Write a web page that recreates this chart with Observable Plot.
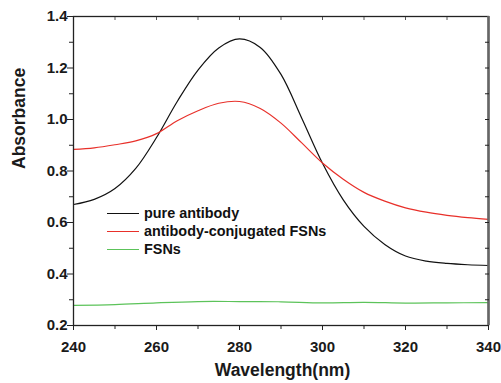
<!DOCTYPE html>
<html>
<head>
<meta charset="utf-8">
<script src="https://cdn.jsdelivr.net/npm/d3@7"></script>
<script src="https://cdn.jsdelivr.net/npm/@observablehq/plot@0.6"></script>
<style>
  html, body { margin: 0; padding: 0; background: #fff; }
  #wrap { position: relative; width: 501px; height: 383px; font-family: "Liberation Sans", Arial, Helvetica, sans-serif; }
  #legend { position: absolute; left: 107px; top: 204px; font-weight: bold; font-size: 14.4px; color: #111; }
  #legend .row { display: flex; align-items: center; height: 18px; }
  #legend .sw { width: 32px; height: 0; border-top: 1.3px solid; margin-right: 5px; }
</style>
</head>
<body>
<div id="wrap"></div>
<script>
const wavelength = [240,245,250,255,260,265,270,275,280,285,290,295,300,305,310,315,320,325,330,335,340];
const pureAntibody = [0.670,0.690,0.732,0.810,0.930,1.070,1.192,1.278,1.313,1.280,1.175,1.005,0.830,0.688,0.585,0.515,0.470,0.450,0.441,0.436,0.433];
const conjugated = [0.884,0.890,0.902,0.917,0.945,0.995,1.034,1.063,1.070,1.043,0.986,0.909,0.831,0.768,0.717,0.683,0.657,0.640,0.628,0.619,0.612];
const fsnWavelength = [240,250,260,270,280,290,300,310,320,330,340];
const fsns = [0.278,0.281,0.288,0.293,0.293,0.292,0.288,0.290,0.287,0.288,0.289];
const seriesNames = ["pure antibody","antibody-conjugated FSNs","FSNs"];
const seriesColors = ["#111111","#e8302a","#5cc35a"];
const xMajor = [240,260,280,300,320,340];
const xMinor = [250,270,290,310,330];
const xTop = [250,260,270,280,290,300,310,320,330];
const yMajor = [0.2,0.4,0.6,0.8,1.0,1.2,1.4];
const yMinor = [0.3,0.5,0.7,0.9,1.1,1.3];
const yRight = [0.3,0.4,0.5,0.6,0.7,0.8,0.9,1.0,1.1,1.2,1.3];

const rows = [];
wavelength.forEach((w,i) => rows.push({w, v: pureAntibody[i], s: seriesNames[0]}));
wavelength.forEach((w,i) => rows.push({w, v: conjugated[i], s: seriesNames[1]}));
fsnWavelength.forEach((w,i) => rows.push({w, v: fsns[i], s: seriesNames[2]}));

const font = {fontSize: 15, fontWeight: "bold", fill: "#1a1a1a"};
const blank = () => "";
const chart = Plot.plot({
  width: 501, height: 383,
  marginLeft: 73, marginRight: 13, marginTop: 16, marginBottom: 58,
  style: {fontFamily: '"Liberation Sans", Arial, Helvetica, sans-serif', background: "white"},
  x: {domain: [240, 340]},
  y: {domain: [0.2, 1.4]},
  color: {domain: seriesNames, range: seriesColors},
  marks: [
    Plot.line(rows, {x: "w", y: "v", z: "s", stroke: "s", strokeWidth: 1.2, curve: "catmull-rom"}),
    Plot.frame({stroke: "#222", strokeWidth: 1.3}),
    Plot.ruleX([340], {stroke: "#666", strokeWidth: 2.6}),
    Plot.axisY({ticks: yMajor, tickSize: 6, tickPadding: 0, tickFormat: d => d.toFixed(1), label: null, stroke: "#222", ...font}),
    Plot.axisY({ticks: yMinor, tickSize: 4, tickFormat: blank, label: null, stroke: "#222"}),
    Plot.axisY({anchor: "right", ticks: yRight, tickSize: -4, tickFormat: blank, label: null, stroke: "#222"}),
    Plot.axisX({ticks: xMajor, tickSize: 5, tickPadding: 11, tickFormat: d => String(d), label: null, stroke: "#222", ...font}),
    Plot.axisX({ticks: xMinor, tickSize: 4, tickFormat: blank, label: null, stroke: "#222"}),
    Plot.axisX({anchor: "top", ticks: xTop, tickSize: -3, tickFormat: blank, label: null, stroke: "#555"}),
    Plot.text(["Wavelength(nm)"], {frameAnchor: "bottom", dy: 45, dx: 1.5, lineAnchor: "middle", fontSize: 17.5, fontWeight: "bold", fill: "#1a1a1a"}),
    Plot.text(["Absorbance"], {frameAnchor: "left", dx: -54.5, dy: -2, rotate: -90, lineAnchor: "middle", fontSize: 17.5, fontWeight: "bold", fill: "#1a1a1a"})
  ]
});
const wrap = document.getElementById("wrap");
wrap.appendChild(chart);
const legend = document.createElement("div");
legend.id = "legend";
seriesNames.forEach((n, i) => {
  const r = document.createElement("div");
  r.className = "row";
  const sw = document.createElement("div");
  sw.className = "sw";
  sw.style.borderTopColor = seriesColors[i];
  const t = document.createElement("span");
  t.textContent = n;
  r.appendChild(sw); r.appendChild(t);
  legend.appendChild(r);
});
wrap.appendChild(legend);
</script>
</body>
</html>
